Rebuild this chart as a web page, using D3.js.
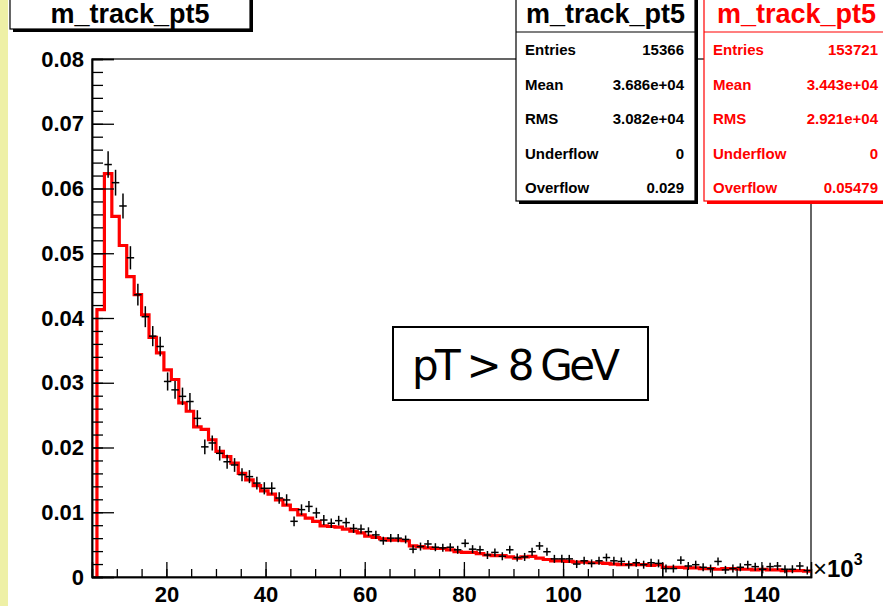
<!DOCTYPE html>
<html>
<head>
<meta charset="utf-8">
<script src="https://cdn.jsdelivr.net/npm/d3@7"></script>
<style>
  body { margin: 0; background: #fff; }
  svg { display: block; font-family: "Liberation Sans", Arial, sans-serif; }
</style>
</head>
<body>
<div id="chart"></div>
<script>
// histogram binning (x in units of 10^3)
const BIN_START = 6
const BIN_WIDTH = 1.5

// red reference histogram (normalised)
const redValues = [
  0.0413, 0.0623, 0.0557, 0.0512, 0.0464, 0.0436, 0.0405, 0.0370, 0.0346, 0.0320,
  0.0305, 0.0269, 0.0256, 0.0232, 0.0228, 0.0212, 0.0194, 0.0186, 0.0176, 0.0160,
  0.0150, 0.0141, 0.0133, 0.0128, 0.0119, 0.0111, 0.0104, 0.0096, 0.0091, 0.0086,
  0.0079, 0.0078, 0.0077, 0.0074, 0.0071, 0.0068, 0.0063, 0.0061, 0.0059, 0.0057,
  0.0057, 0.0056, 0.0048, 0.0047, 0.0045, 0.0044, 0.0044, 0.0042, 0.0039, 0.0038,
  0.0038, 0.0036, 0.0034, 0.0033, 0.0033, 0.0031, 0.0029, 0.0031, 0.0032, 0.0029,
  0.0027, 0.0025, 0.0025, 0.0024, 0.0023, 0.0023, 0.0022, 0.0022, 0.0021, 0.0020,
  0.0019, 0.0019, 0.0019, 0.0019, 0.0018, 0.0019, 0.0015, 0.0015, 0.0015, 0.0014,
  0.0014, 0.0013, 0.0013, 0.0012, 0.0013, 0.0013, 0.0012, 0.0012, 0.0011, 0.0012,
  0.0011, 0.0011, 0.0010, 0.0010, 0.0010, 0.0009
]

// black data points (normalised), null = no point drawn
const blackValues = [
  null, 0.0637, 0.0609, 0.0573, 0.0493, 0.0436, 0.0402, 0.0372, 0.0356, 0.0302,
  0.0289, 0.0279, 0.0271, 0.0245, 0.0201, 0.0207, 0.0191, 0.0178, 0.0173, 0.0158,
  0.0155, 0.0145, 0.0137, 0.0137, 0.0122, 0.0119, 0.0086, 0.0104, 0.0109, 0.0099,
  0.0088, 0.0083, 0.0087, 0.0084, 0.0075, 0.0074, 0.0070, 0.0065, 0.0056, 0.0060,
  0.0060, 0.0058, 0.0043, 0.0047, 0.0051, 0.0046, 0.0045, 0.0046, 0.0042, 0.0052,
  0.0043, 0.0042, 0.0034, 0.0038, 0.0032, 0.0042, 0.0030, 0.0031, 0.0039, 0.0048,
  0.0039, 0.0028, 0.0028, 0.0028, 0.0020, 0.0025, 0.0021, 0.0025, 0.0030, 0.0025,
  0.0024, 0.0019, 0.0022, 0.0019, 0.0022, 0.0021, 0.0013, 0.0013, 0.0026, 0.0017,
  0.0019, 0.0015, 0.0013, 0.0024, 0.0011, 0.0013, 0.0015, 0.0019, 0.0016, 0.0012,
  0.0016, 0.0017, 0.0012, 0.0012, 0.0017, 0.0010
]
const BLACK_ENTRIES = 15366

const xTicks = [20, 40, 60, 80, 100, 120, 140]
const yTicks = [0, 0.01, 0.02, 0.03, 0.04, 0.05, 0.06, 0.07, 0.08]
const yTickLabels = ['0', '0.01', '0.02', '0.03', '0.04', '0.05', '0.06', '0.07', '0.08']

const histTitle = 'm_track_pt5'
const statLabels = ['Entries', 'Mean', 'RMS', 'Underflow', 'Overflow']
const blackStats = ['15366', '3.686e+04', '3.082e+04', '0', '0.029']
const redStats = ['153721', '3.443e+04', '2.921e+04', '0', '0.05479']
const noteText = 'pT > 8 GeV'

const W = 883, H = 606
const FRAME = {LEFT: 92, RIGHT: 811, TOP: 59, BOTTOM: 577}

const svg = d3.select('#chart').append('svg')
    .attr('width', W)
    .attr('height', H)

svg.append('rect').attr('width', W).attr('height', H).attr('fill', '#fff')
// pale strip on the left edge
svg.append('rect').attr('x', 0).attr('y', 0).attr('width', 8).attr('height', H).attr('fill', '#eef0a6')

const x = d3.scaleLinear().domain([5, 150]).range([FRAME.LEFT, FRAME.RIGHT])
const y = d3.scaleLinear().domain([0, 0.08]).range([FRAME.BOTTOM, FRAME.TOP])

svg.append('defs').append('clipPath').attr('id', 'plot-clip')
    .append('rect')
    .attr('x', FRAME.LEFT).attr('y', FRAME.TOP)
    .attr('width', FRAME.RIGHT - FRAME.LEFT).attr('height', FRAME.BOTTOM - FRAME.TOP)

// frame
svg.append('rect')
    .attr('x', FRAME.LEFT).attr('y', FRAME.TOP)
    .attr('width', FRAME.RIGHT - FRAME.LEFT).attr('height', FRAME.BOTTOM - FRAME.TOP)
    .attr('fill', 'none').attr('stroke', '#000').attr('stroke-width', 1.2)

// red histogram
const stepPts = [{e: BIN_START, v: 0}]
redValues.forEach((v, i) => stepPts.push({e: BIN_START + i * BIN_WIDTH, v: v}))
stepPts.push({e: BIN_START + redValues.length * BIN_WIDTH, v: redValues[redValues.length - 1]})

const line = d3.line().x(d => x(d.e)).y(d => y(d.v)).curve(d3.curveStepAfter)
svg.append('path')
    .datum(stepPts)
    .attr('d', line)
    .attr('fill', 'none')
    .attr('stroke', '#ff0000')
    .attr('stroke-width', 3.2)
    .attr('clip-path', 'url(#plot-clip)')

// black points with error bars
const pts = blackValues.map((v, i) => ({lo: BIN_START + i * BIN_WIDTH, hi: BIN_START + (i + 1) * BIN_WIDTH, v: v}))
    .filter(d => d.v !== null)
const gPts = svg.append('g').attr('stroke', '#000').attr('stroke-width', 1.5)
    .attr('clip-path', 'url(#plot-clip)')
gPts.selectAll('line.h').data(pts).enter().append('line')
    .attr('class', 'h')
    .attr('x1', d => x(d.lo)).attr('x2', d => x(d.hi))
    .attr('y1', d => y(d.v)).attr('y2', d => y(d.v))
gPts.selectAll('line.v').data(pts).enter().append('line')
    .attr('class', 'v')
    .attr('x1', d => x((d.lo + d.hi) / 2)).attr('x2', d => x((d.lo + d.hi) / 2))
    .attr('y1', d => Math.max(y(d.v) + 4, y(d.v - Math.sqrt(d.v / BLACK_ENTRIES))))
    .attr('y2', d => Math.min(y(d.v) - 4, y(d.v + Math.sqrt(d.v / BLACK_ENTRIES))))

// axes (ticks pointing inward, like ROOT)
const yAxis = svg.append('g')
    .attr('transform', `translate(${FRAME.LEFT},0)`)
    .call(d3.axisLeft(y).tickValues(yTicks).tickSize(-22).tickPadding(8)
        .tickFormat((d, i) => yTickLabels[i]))
svg.append('g')
    .attr('transform', `translate(${FRAME.LEFT},0)`)
    .call(d3.axisLeft(y).tickValues(d3.range(0, 0.0801, 0.002)).tickSize(-11).tickFormat(''))

const xAxis = svg.append('g')
    .attr('transform', `translate(0,${FRAME.BOTTOM})`)
    .call(d3.axisBottom(x).tickValues(xTicks).tickSize(-15).tickPadding(9))
svg.append('g')
    .attr('transform', `translate(0,${FRAME.BOTTOM})`)
    .call(d3.axisBottom(x).tickValues(d3.range(10, 150, 5)).tickSize(-8).tickFormat(''))

svg.selectAll('.domain').attr('stroke', '#000').attr('stroke-width', 1.5)
svg.selectAll('.tick line').attr('stroke', '#000').attr('stroke-width', 1.3)
svg.selectAll('.tick text')
    .attr('fill', '#000')
    .style('font-size', '22px')
    .style('font-weight', 'bold')
    .style('font-family', '"Liberation Sans", Arial, sans-serif')

// x10^3 label
const mult = svg.append('text')
    .attr('x', 813).attr('y', 577)
    .style('font-size', '24px')
mult.append('tspan').text('×')
mult.append('tspan').style('font-weight', 'bold').text('10')
mult.append('tspan').attr('dy', -12).style('font-size', '16px').style('font-weight', 'bold').text('3')

// boxes with ROOT style shadow
function shadowBox(x0, y0, x1, y1, color) {
    const g = svg.append('g')
    g.append('rect')
        .attr('x', x0 + 3).attr('y', y0 + 3).attr('width', x1 - x0).attr('height', y1 - y0)
        .attr('fill', color)
    g.append('rect')
        .attr('x', x0).attr('y', y0).attr('width', x1 - x0).attr('height', y1 - y0)
        .attr('fill', '#fff').attr('stroke', color).attr('stroke-width', 1.2)
    return g
}

// title box
shadowBox(10, -10, 250, 29, '#000')
svg.append('text')
    .attr('x', 130).attr('y', 23)
    .attr('text-anchor', 'middle')
    .style('font-size', '27px').style('font-weight', 'bold')
    .text(histTitle)

// stats boxes
function statBox(x0, x1, values, color) {
    shadowBox(x0, -10, x1, 201, color)
    svg.append('line')
        .attr('x1', x0).attr('x2', x1).attr('y1', 32).attr('y2', 32)
        .attr('stroke', color).attr('stroke-width', 1.2)
    svg.append('text')
        .attr('x', (x0 + x1) / 2).attr('y', 23)
        .attr('text-anchor', 'middle').attr('fill', color)
        .style('font-size', '27px').style('font-weight', 'bold')
        .text(histTitle)
    const rows = svg.append('g').attr('fill', color)
        .style('font-size', '15px').style('font-weight', 'bold')
    rows.selectAll('text.lab').data(statLabels).enter().append('text')
        .attr('x', x0 + 9).attr('y', (d, i) => 55 + i * 34.5)
        .text(d => d)
    rows.selectAll('text.val').data(values).enter().append('text')
        .attr('x', x1 - 11).attr('y', (d, i) => 55 + i * 34.5)
        .attr('text-anchor', 'end')
        .text(d => d)
}
statBox(516, 695, blackStats, '#000')
statBox(704, 883 + 6, redStats, '#ff0000')

// note box
svg.append('rect')
    .attr('x', 393).attr('y', 327).attr('width', 255).attr('height', 73)
    .attr('fill', '#fff').attr('stroke', '#000').attr('stroke-width', 2)
svg.append('text')
    .attr('x', 412).attr('y', 380)
    .attr('textLength', 208)
    .style('font-family', '"DejaVu Sans", sans-serif')
    .style('font-size', '42px')
    .text(noteText)
</script>
</body>
</html>
